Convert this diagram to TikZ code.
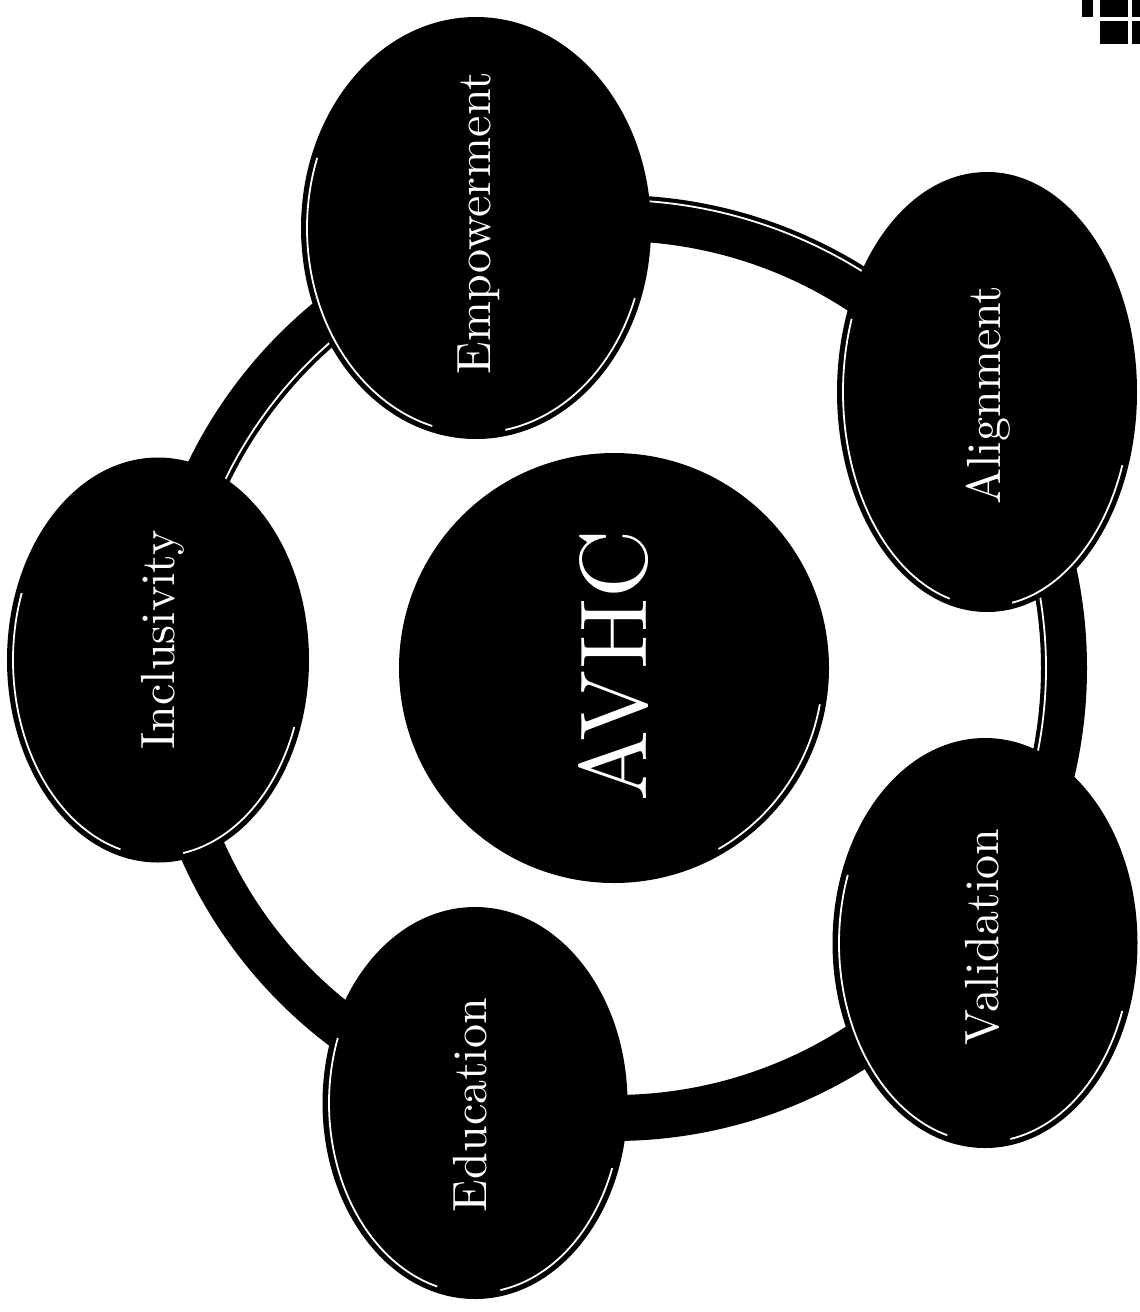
\documentclass[tikz,border=0pt]{standalone}
\usepackage{fontspec}
\newfontfamily\lblfont{lmroman10-regular.otf}
\usetikzlibrary{shapes.geometric}
\begin{document}
\begin{tikzpicture}[x=1pt,y=-1pt,
  bubble/.style={ellipse, fill=black, draw=none, inner sep=0pt},
  hub/.style={circle, fill=black, draw=none, inner sep=0pt, minimum size=430pt},
  hl/.style={draw=white, line width=1.8pt},
  lbl/.style={text=white, rotate=90, anchor=base, inner sep=0pt, font=\lblfont\fontsize{48}{48}\selectfont},
  biglbl/.style={lbl, font=\lblfont\fontsize{95}{95}\selectfont},
  ringline/.style={draw=black, line width=46pt},
  speck/.style={fill=black}
]
\useasboundingbox (0,0) rectangle (1140,1312);
\fill[white] (0,0) rectangle (1140,1312);

% ring
\coordinate (O) at (614,668);
\draw[ringline] (O) circle[radius=450];
\draw[hl] ([shift={(265:468)}]O) arc[start angle=265, end angle=315, radius=468];
\draw[hl] ([shift={(-25:432)}]O) arc[start angle=-25, end angle=25, radius=432];
\draw[hl] ([shift={(195:432)}]O) arc[start angle=195, end angle=240, radius=432];

% outer bubbles
\node[bubble, minimum width=350pt, minimum height=422pt] (emp) at (476,228) {};
\node[bubble, minimum width=300pt, minimum height=440pt] (ali) at (987,392) {};
\node[bubble, minimum width=305pt, minimum height=410pt] (val) at (985,943) {};
\node[bubble, minimum width=305pt, minimum height=392pt] (edu) at (475,1103) {};
\node[bubble, minimum width=302pt, minimum height=405pt] (inc) at (158,660) {};

\foreach \n/\a/\b in {emp/169/205, ali/144/214, val/146/199, edu/146/190, inc/145/196} {
  \draw[hl] ([shift={({\a*cos(105)},{\b*sin(105)})}]\n.center) arc[start angle=105, end angle=200, x radius=\a, y radius=\b];
  \draw[hl] ([shift={({\a*cos(20)},{\b*sin(20)})}]\n.center) arc[start angle=20, end angle=80, x radius=\a, y radius=\b];
}

% hub
\node[hub] (avhc) at (O) {};
\draw[hl] ([shift={(10:209)}]O) arc[start angle=10, end angle=60, radius=209];

% labels
\node[lbl] (t-emp) at (490,223) {Empowerment};
\node[lbl] (t-ali) at (1000,395) {Alignment};
\node[lbl] (t-val) at (998,937) {Validation};
\node[lbl] (t-edu) at (486,1105) {Education};
\node[lbl] (t-inc) at (174,640) {Inclusivity};
\node[biglbl] (t-avhc) at (646,666) {AVHC};

% scan marks top right
\fill[speck] (1082,0) rectangle (1093,17);
\fill[speck] (1100,0) rectangle (1128,17);
\fill[speck] (1132,0) rectangle (1140,17);
\fill[speck] (1100,21) rectangle (1128,44);
\fill[speck] (1132,21) rectangle (1140,44);
\end{tikzpicture}
\end{document}
